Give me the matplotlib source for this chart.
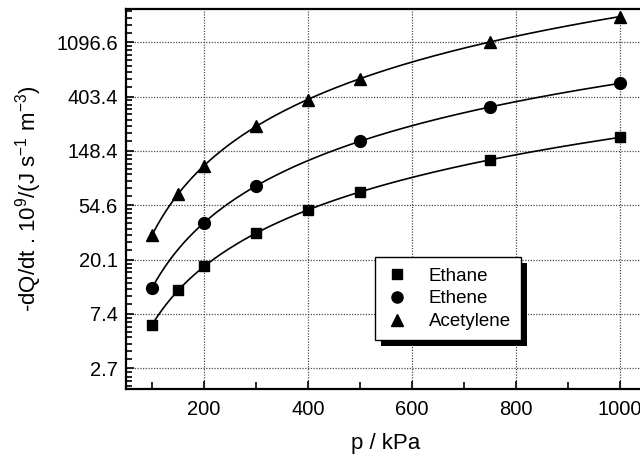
import numpy as np
import matplotlib
matplotlib.use('Agg')
import matplotlib.pyplot as plt
from matplotlib.ticker import FixedLocator, FuncFormatter, MultipleLocator
from matplotlib.lines import Line2D
from matplotlib.patches import Rectangle

plt.rcParams['font.family'] = ['Liberation Sans', 'DejaVu Sans']
plt.rcParams['mathtext.fontset'] = 'custom'
plt.rcParams['mathtext.rm'] = 'Liberation Sans'
plt.rcParams['mathtext.it'] = 'Liberation Sans'
plt.rcParams['axes.unicode_minus'] = False

# heat release rate, -dQ/dt * 1e9 in J s^-1 m^-3
p_ethane = [100, 150, 200, 300, 400, 500, 750, 1000]
q_ethane = [6.0, 11.4, 18.0, 32.5, 49.9, 69.4, 125.0, 192.0]

p_ethene = [100, 200, 300, 500, 750, 1000]
q_ethene = [11.9, 39.6, 77.5, 177.7, 333.7, 512.9]

p_acetylene = [100, 150, 200, 300, 400, 500, 750, 1000]
q_acetylene = [31.5, 66.7, 113.3, 235.1, 379.9, 555.6, 1107.9, 1754.0]

series = [
    ('Ethane', p_ethane, q_ethane, 's', 7.5),
    ('Ethene', p_ethene, q_ethene, 'o', 8.5),
    ('Acetylene', p_acetylene, q_acetylene, '^', 8.5),
]

fig = plt.figure(figsize=(6.4, 4.59), dpi=100)
ax = fig.add_axes([126 / 640, 70 / 459, 520 / 640, 380 / 459])

ax.set_yscale('log', base=np.e)

p_fit = np.linspace(98, 1000, 300)
handles = []
for name, p, q, mk, ms in series:
    lp = np.log(p)
    lq = np.log(q)
    coef = np.polyfit(lp, lq, 2)
    ax.plot(p_fit, np.exp(np.polyval(coef, np.log(p_fit))), color='black', lw=1.2, zorder=2)
    ax.plot(p, q, linestyle='none', marker=mk, ms=ms, color='black', zorder=3)
    handles.append(Line2D([], [], linestyle='none', marker=mk, ms=ms - 0.5, color='black', label=name))

ax.set_xlim(50, 1050)
ax.set_ylim(np.exp(0.62), np.exp(7.61))

# major ticks at e^n, minor ticks at linear steps between them
major = np.exp(np.arange(0, 9))
minor = []
for n in range(0, 8):
    lo, hi = np.exp(n), np.exp(n + 1)
    minor.extend(lo + (hi - lo) * np.arange(1, 9) / 9)
ax.yaxis.set_major_locator(FixedLocator(major))
ax.yaxis.set_minor_locator(FixedLocator(minor))
ax.yaxis.set_major_formatter(FuncFormatter(lambda v, pos: '%.1f' % v))
ax.yaxis.set_minor_formatter(FuncFormatter(lambda v, pos: ''))

ax.xaxis.set_major_locator(MultipleLocator(200))
ax.xaxis.set_minor_locator(MultipleLocator(100))

ax.tick_params(which='both', direction='in', labelsize=14.5, width=1.2)
ax.tick_params(axis='y', which='major', length=6, pad=6)
ax.tick_params(axis='y', which='minor', length=4)
ax.tick_params(axis='x', which='major', length=6, pad=8)
ax.tick_params(axis='x', which='minor', length=5)

ax.grid(True, which='major', color='0.3', linestyle=(0, (1, 1.2)), lw=0.9)
ax.set_axisbelow(True)

for s in ax.spines.values():
    s.set_linewidth(1.6)

ax.set_xlabel('p / kPa', fontsize=16, labelpad=10)
ax.set_ylabel(r'-dQ/dt . 10$^{9}$/(J s$^{-1}$ m$^{-3}$)', fontsize=16, labelpad=9)

leg = ax.legend(handles=handles, loc='upper left', bbox_to_anchor=(0.479, 0.347),
                borderaxespad=0, frameon=True, fancybox=False, edgecolor='black',
                framealpha=1, fontsize=13.5, handlelength=1.2, handletextpad=1.1,
                borderpad=0.55, labelspacing=0.3)
leg.get_frame().set_linewidth(1.0)
leg.set_zorder(5)

# hard drop shadow behind the legend box
fig.canvas.draw()
bb = leg.get_window_extent().transformed(fig.transFigure.inverted())
dx, dy = 6 / 640, 6 / 459
shadow = Rectangle((bb.x0 + dx, bb.y0 - dy), bb.width, bb.height, transform=fig.transFigure,
                   facecolor='black', edgecolor='none', zorder=4)
ax.add_artist(shadow)
shadow.set_clip_on(False)

fig.savefig('out.png', dpi=100)
